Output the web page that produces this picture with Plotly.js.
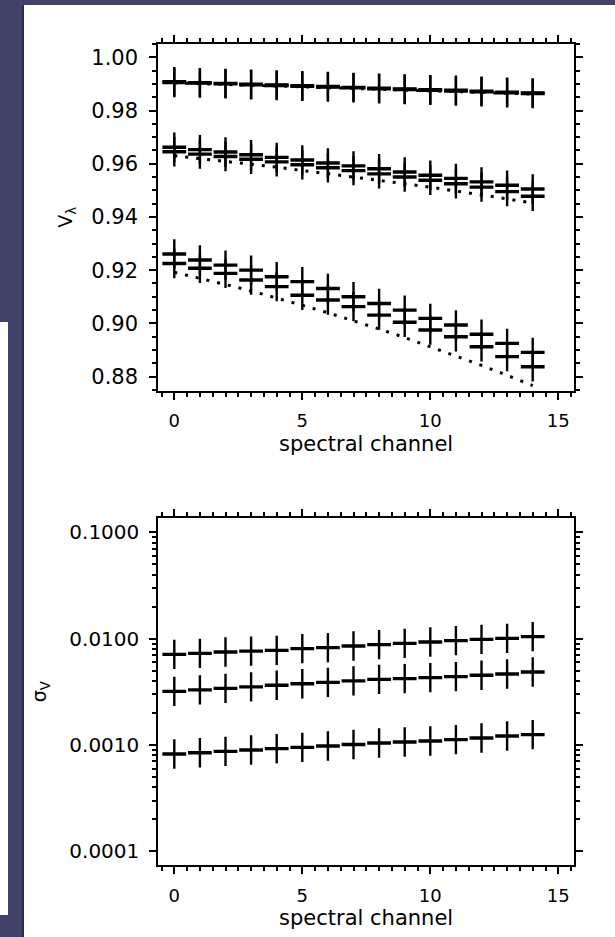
<!DOCTYPE html>
<html>
<head>
<meta charset="utf-8">
<script src="https://cdn.plot.ly/plotly-3.0.1.min.js"></script>
<style>
  html, body { margin: 0; padding: 0; background: #41416a; }
  #plot { width: 615px; height: 937px; }
</style>
</head>
<body>
<div id="plot"></div>
<script>
// Spectral channels
const channel = [0, 1, 2, 3, 4, 5, 6, 7, 8, 9, 10, 11, 12, 13, 14];

// Visibility per channel: three baselines, two measurement sets each plus model (dotted)
const visA1 = [0.9908, 0.9905, 0.9902, 0.9899, 0.9896, 0.9893, 0.9890, 0.9887, 0.9884, 0.9881, 0.9878, 0.9876, 0.9873, 0.9869, 0.9866];
const visB1 = [0.9905, 0.9903, 0.9900, 0.9897, 0.9894, 0.9891, 0.9888, 0.9885, 0.9882, 0.9879, 0.9876, 0.9873, 0.9870, 0.9867, 0.9864];
const visM1 = [0.9904, 0.9901, 0.9898, 0.9895, 0.9892, 0.9889, 0.9886, 0.9883, 0.9880, 0.9877, 0.9874, 0.9871, 0.9868, 0.9865, 0.9862];

const visA2 = [0.9662, 0.9653, 0.9644, 0.9634, 0.9624, 0.9614, 0.9603, 0.9592, 0.9581, 0.9569, 0.9557, 0.9545, 0.9532, 0.9519, 0.9505];
const visB2 = [0.9645, 0.9636, 0.9627, 0.9617, 0.9607, 0.9596, 0.9585, 0.9574, 0.9562, 0.9550, 0.9538, 0.9525, 0.9512, 0.9495, 0.9478];
const visM2 = [0.9630, 0.9620, 0.9609, 0.9598, 0.9587, 0.9575, 0.9563, 0.9551, 0.9538, 0.9525, 0.9512, 0.9498, 0.9483, 0.9468, 0.9452];

const visA3 = [0.9261, 0.9238, 0.9219, 0.9200, 0.9175, 0.9157, 0.9131, 0.9100, 0.9075, 0.9050, 0.9019, 0.8994, 0.8959, 0.8925, 0.8891];
const visB3 = [0.9225, 0.9207, 0.9188, 0.9163, 0.9138, 0.9106, 0.9088, 0.9063, 0.9031, 0.9004, 0.8975, 0.8950, 0.8912, 0.8875, 0.8837];
const visM3 = [0.9192, 0.9170, 0.9146, 0.9122, 0.9096, 0.9068, 0.9040, 0.9010, 0.8979, 0.8947, 0.8913, 0.8878, 0.8842, 0.8805, 0.8766];

// Visibility uncertainty per channel
const sig1 = [0.00712, 0.00727, 0.00748, 0.00764, 0.00776, 0.00805, 0.00823, 0.00852, 0.00878, 0.00903, 0.00929, 0.00958, 0.00985, 0.01006, 0.01044];
const sig2 = [0.00319, 0.00330, 0.00341, 0.00352, 0.00364, 0.00376, 0.00388, 0.00401, 0.00414, 0.00421, 0.00430, 0.00439, 0.00452, 0.00465, 0.00485];
const sig3 = [0.000823, 0.000846, 0.000871, 0.000897, 0.000923, 0.000949, 0.000979, 0.001011, 0.001044, 0.001067, 0.001090, 0.001122, 0.001164, 0.001215, 0.001250];

// Log axis labels
const sigTickVals = [0.0001, 0.001, 0.01, 0.1];
const sigTickText = ['0.0001', '0.0010', '0.0100', '0.1000'];
const sigMinorVals = [];
[0.0001, 0.001, 0.01].forEach(d => { for (let k = 2; k <= 9; k++) sigMinorVals.push(d * k); });

const FONT = 'DejaVu Sans, Liberation Sans, Arial, sans-serif';

// A "+" plot symbol: heavier horizontal stroke, slightly taller vertical stroke
function crosses(y, xa, ya) {
  const base = { x: channel, y: y, xaxis: xa, yaxis: ya, type: 'scatter', mode: 'markers',
                 hoverinfo: 'skip', showlegend: false };
  return [
    Object.assign({}, base, { marker: { symbol: 'line-ew', size: 17, color: '#000', line: { color: '#000', width: 3.4 } } }),
    Object.assign({}, base, { marker: { symbol: 'line-ns', size: 21, color: '#000', line: { color: '#000', width: 2.4 } } })
  ];
}
function model(y) {
  return {
    x: channel, y: y, xaxis: 'x', yaxis: 'y', type: 'scatter', mode: 'lines',
    line: { color: '#000', width: 3, dash: '3px,8px' },
    hoverinfo: 'skip', showlegend: false
  };
}

const data = [
  model(visM1), model(visM2), model(visM3),
  ...crosses(visA1, 'x', 'y'), ...crosses(visB1, 'x', 'y'),
  ...crosses(visA2, 'x', 'y'), ...crosses(visB2, 'x', 'y'),
  ...crosses(visA3, 'x', 'y'), ...crosses(visB3, 'x', 'y'),
  ...crosses(sig1, 'x2', 'y2'), ...crosses(sig2, 'x2', 'y2'), ...crosses(sig3, 'x2', 'y2')
];

const W = 615, H = 937;
const xDom = [158.3 / W, 574 / W];

const frame = {
  showline: true, linecolor: '#000', linewidth: 2, mirror: 'allticks',
  ticks: 'outside', ticklen: 7, tickwidth: 2, tickcolor: '#000',
  showgrid: false, zeroline: false, color: '#000'
};
const chanAxis = Object.assign({}, frame, {
  domain: xDom, range: [-0.625, 15.613],
  tickmode: 'array', tickvals: [0, 5, 10, 15],
  minor: { dtick: 0.5, tick0: 0, ticks: 'outside', ticklen: 4, tickwidth: 2, tickcolor: '#000', showgrid: false },
  tickfont: { family: FONT, size: 18, color: '#000' },
  ticklabelstandoff: 6,
  title: { text: 'spectral channel', font: { family: FONT, size: 21, color: '#000' }, standoff: 6 }
});

const layout = {
  width: W, height: H,
  margin: { l: 0, r: 0, t: 0, b: 0, autoexpand: false },
  paper_bgcolor: '#41416a', plot_bgcolor: '#ffffff',
  showlegend: false,
  xaxis: Object.assign({}, chanAxis, { anchor: 'y' }),
  yaxis: Object.assign({}, frame, {
    domain: [1 - 390.7 / H, 1 - 44 / H], range: [0.8747, 1.005], anchor: 'x',
    tickmode: 'linear', tick0: 0.88, dtick: 0.02, tickformat: '.2f',
    minor: { dtick: 0.005, tick0: 0.88, ticks: 'outside', ticklen: 4, tickwidth: 2, tickcolor: '#000', showgrid: false },
    tickfont: { family: FONT, size: 21, color: '#000' },
    ticklabelstandoff: 7,
    title: { text: 'V<sub>λ</sub>', font: { family: FONT, size: 19, color: '#000' }, standoff: 14 }
  }),
  xaxis2: Object.assign({}, chanAxis, { anchor: 'y2' }),
  yaxis2: Object.assign({}, frame, {
    domain: [1 - 865 / H, 1 - 518.3 / H], type: 'log', range: [-4.129, -0.868], anchor: 'x2',
    tickmode: 'array', tickvals: sigTickVals, ticktext: sigTickText,
    minor: { tickmode: 'array', tickvals: sigMinorVals, ticks: 'outside', ticklen: 4, tickwidth: 2, tickcolor: '#000', showgrid: false },
    tickfont: { family: FONT, size: 20, color: '#000' },
    ticklabelstandoff: 6,
    title: { text: 'σ<sub>V</sub>', font: { family: FONT, size: 19, color: '#000' }, standoff: 18 }
  }),
  shapes: [
    // white slide panel holding the figure
    { type: 'rect', xref: 'paper', yref: 'paper', x0: 24 / W, x1: 1, y0: 0, y1: 1 - 5 / H,
      fillcolor: '#ffffff', line: { width: 0 }, layer: 'below' },
    { type: 'line', xref: 'paper', yref: 'paper', x0: 23 / W, x1: 23 / W, y0: 0, y1: 1 - 5 / H,
      line: { color: '#2c2c46', width: 2 }, layer: 'below' },
    // edge of a neighbouring panel at the far left
    { type: 'rect', xref: 'paper', yref: 'paper', x0: 0, x1: 8 / W, y0: 1 - 915 / H, y1: 1 - 322 / H,
      fillcolor: '#ffffff', line: { width: 0 }, layer: 'below' }
  ]
};

Plotly.newPlot('plot', data, layout, { staticPlot: true, displayModeBar: false });
</script>
</body>
</html>
